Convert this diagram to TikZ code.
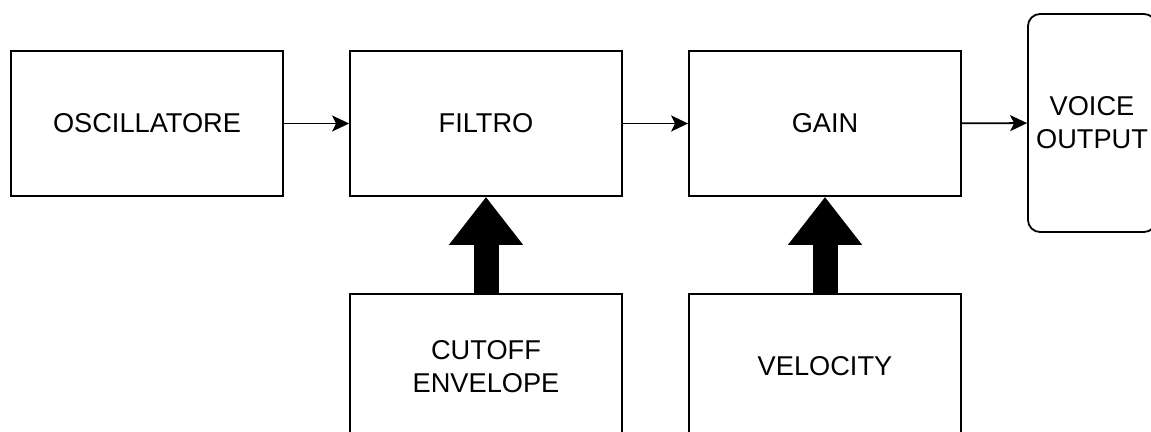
\documentclass[tikz,border=0pt]{standalone}
\usepackage{fontspec}
\setmainfont{Liberation Sans}
\usetikzlibrary{arrows.meta}
\begin{document}
\begin{tikzpicture}[x=0.5pt, y=-0.5pt,
  box/.style={draw, line width=0.9pt, minimum width=136pt, minimum height=72.5pt,
    align=center, font=\fontsize{13.6pt}{16.5pt}\selectfont},
  outbox/.style={box, rounded corners=6pt, minimum width=64pt, minimum height=109pt},
  flow/.style={line width=0.9pt, -{Stealth[length=8.5pt, width=8pt, inset=2pt]}},
  fatflow/.style={line width=12.5pt, -{Triangle[length=24pt, width=35.5pt]}}]
  \useasboundingbox (0, 0) rectangle (1151, 432);
  \clip (0, 0) rectangle (1151, 432);

  \node[box] (osc) at (147, 123.5) {OSCILLATORE};
  \node[box] (filtro) at (486, 123.5) {FILTRO};
  \node[box] (gain) at (825, 123.5) {GAIN};
  \node[outbox] (voice) at (1092, 123) {VOICE\\OUTPUT};
  \node[box] (cutoff) at (486, 366.5) {CUTOFF\\ENVELOPE};
  \node[box] (velocity) at (825, 366.5) {VELOCITY};

  \draw[flow] (osc) -- (filtro);
  \draw[flow] (filtro) -- (gain);
  \draw[flow] (gain) -- (voice);
  \draw[fatflow] (cutoff) -- (filtro);
  \draw[fatflow] (velocity) -- (gain);
\end{tikzpicture}
\end{document}
